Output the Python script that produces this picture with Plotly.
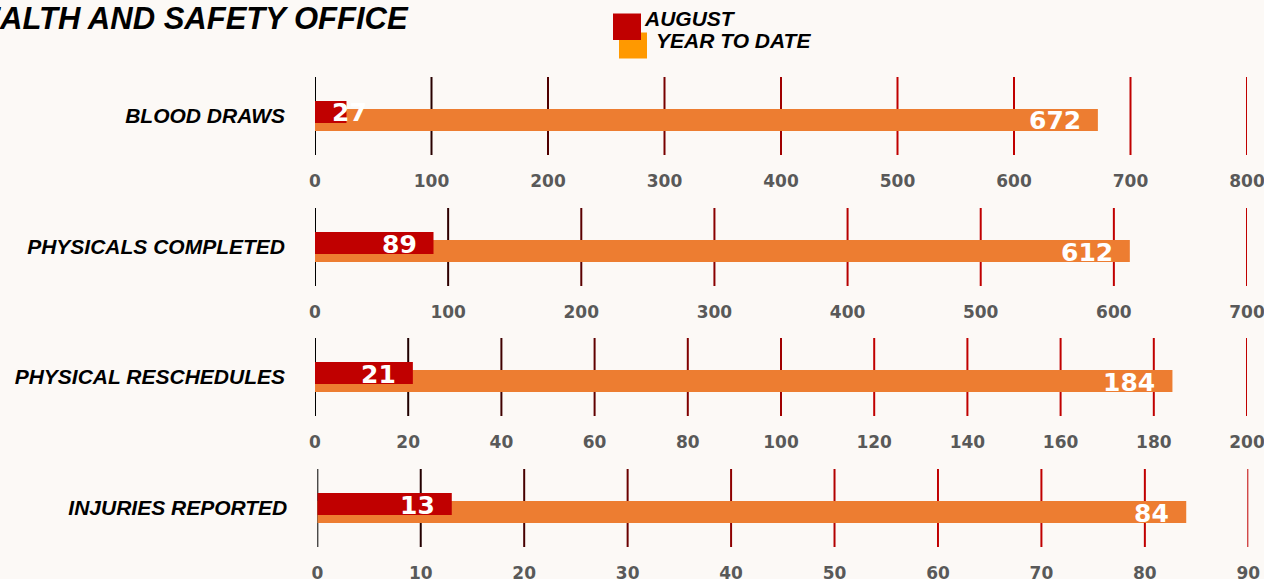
import plotly.graph_objects as go

# ---------------- data ----------------
categories = ["BLOOD DRAWS", "PHYSICALS COMPLETED", "PHYSICAL RESCHEDULES", "INJURIES REPORTED"]
august = [27, 89, 21, 13]
year_to_date = [672, 612, 184, 84]
axis_max = [800, 700, 200, 90]
axis_step = [100, 100, 20, 10]
series_names = ["AUGUST", "YEAR TO DATE"]
title_text = "HEALTH AND SAFETY OFFICE"

# ---------------- style / layout ----------------
W, H = 1264, 579
BG = "#FCF9F6"
RED = "#C00000"
ORANGE = "#ED7D31"
LEG_ORANGE = "#FF9900"
rows_top = [77, 208, 338, 469]
rows_bottom = [155, 286, 416, 547]
x_left = [315, 315, 315, 317.3]
x_right = [1247, 1247, 1247, 1248.3]
BAR_W = 0.282

label_font = dict(family="Liberation Sans", size=21, color="#000000", weight="bold", style="italic")
tick_font = dict(family="DejaVu Sans", size=17, color="#595959", weight="bold")
value_font = dict(family="DejaVu Sans", size=25, color="#FFFFFF", weight="bold")

fig = go.Figure()
layout = dict(
    width=W, height=H, autosize=False,
    margin=dict(l=0, r=0, t=0, b=0),
    paper_bgcolor=BG, plot_bgcolor=BG,
    barmode="overlay", showlegend=False,
)
shapes = []
annotations = []

for i in range(4):
    n = "" if i == 0 else str(i + 1)
    xa, ya = "x" + n, "y" + n
    fig.add_trace(go.Bar(y=[categories[i]], x=[year_to_date[i]], orientation="h",
                         xaxis=xa, yaxis=ya, marker=dict(color=ORANGE, line=dict(width=0)),
                         width=BAR_W, offset=-0.192, name=series_names[1]))
    fig.add_trace(go.Bar(y=[categories[i]], x=[august[i]], orientation="h",
                         xaxis=xa, yaxis=ya, marker=dict(color=RED, line=dict(width=0)),
                         width=BAR_W, offset=-0.0897, name=series_names[0]))
    ticks = list(range(0, axis_max[i] + 1, axis_step[i]))
    layout["xaxis" + n] = dict(
        domain=[x_left[i] / W, x_right[i] / W], range=[0, axis_max[i]], anchor=ya,
        tickvals=ticks, showgrid=False, zeroline=False, showline=False, ticks="",
        tickfont=tick_font, ticklabelstandoff=14, fixedrange=True, automargin=False,
        ticklabeloverflow="allow",
    )
    layout["yaxis" + n] = dict(
        domain=[1 - rows_bottom[i] / H, 1 - rows_top[i] / H], anchor=xa,
        type="category", range=[-0.5, 0.5], showgrid=False, zeroline=False,
        showline=False, ticks="", tickfont=label_font, ticklabelstandoff=29,
        automargin=False,
    )
    # gradient grid lines (black -> red)
    for t in ticks:
        f = t / axis_max[i]
        r = int(round(min(1.0, f / 0.6) * 192))
        shapes.append(dict(type="line", xref=xa, yref=ya + " domain", x0=t, x1=t, y0=0, y1=1,
                           line=dict(color=f"rgb({r},0,0)", width=2), layer="below"))
    # value labels
    span_px = x_right[i] - x_left[i]
    for val, ysh in ((year_to_date[i], -5), (august[i], 3)):
        bar_px = val / axis_max[i] * span_px
        tw = len(str(val)) * 0.7 * value_font["size"]
        if bar_px >= tw + 30:
            ax, anc, xs = val, "right", -15
        else:
            ax, anc, xs = 0, "left", 15
        annotations.append(dict(text=str(val), xref=xa, yref=ya, x=ax, y=categories[i],
                                xanchor=anc, yanchor="middle", xshift=xs, yshift=ysh,
                                showarrow=False, font=value_font))

# title (clipped at the left edge like the reference)
annotations.append(dict(text=title_text, xref="paper", yref="paper", x=411 / W, y=1 - 18 / H,
                        xanchor="right", yanchor="middle", showarrow=False,
                        font=dict(family="Liberation Sans", size=31, color="#000000",
                                  weight="bold", style="italic")))
# custom legend
shapes.append(dict(type="rect", xref="paper", yref="paper", x0=619 / W, x1=647 / W,
                   y0=1 - 58.5 / H, y1=1 - 32.5 / H, fillcolor=LEG_ORANGE, line=dict(width=0)))
shapes.append(dict(type="rect", xref="paper", yref="paper", x0=613 / W, x1=641 / W,
                   y0=1 - 40 / H, y1=1 - 13.5 / H, fillcolor=RED, line=dict(width=0)))
annotations.append(dict(text=series_names[0], xref="paper", yref="paper", x=642 / W, y=1 - 19 / H,
                        xanchor="left", yanchor="middle", showarrow=False, font=label_font))
annotations.append(dict(text=series_names[1], xref="paper", yref="paper", x=654 / W, y=1 - 41 / H,
                        xanchor="left", yanchor="middle", showarrow=False, font=label_font))

layout["shapes"] = shapes
layout["annotations"] = annotations
fig.update_layout(**layout)
fig.write_html(
    "out.html",
    config={"responsive": False, "displayModeBar": False},
    post_script="document.body.style.margin='0';document.body.style.padding='0';"
                "document.body.style.overflow='hidden';"
                "document.body.style.background='" + BG + "';",
)
